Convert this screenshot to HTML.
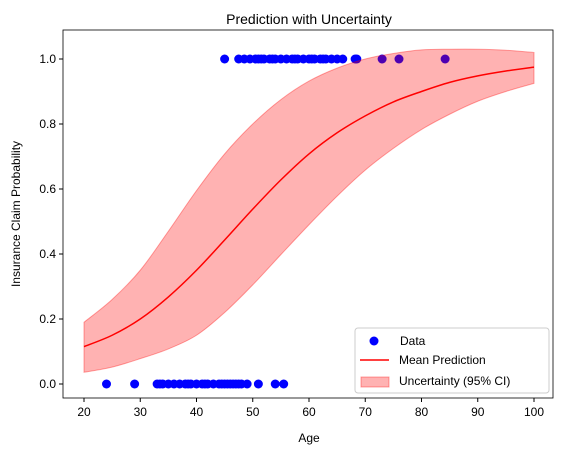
<!DOCTYPE html>
<html><head><meta charset="utf-8"><style>
body{margin:0;background:#fff;}
svg{font-family:"Liberation Sans","DejaVu Sans",sans-serif;}
</style></head><body>
<svg id="chart" width="567" height="455" viewBox="0 0 567 455">
<text x="309" y="24" font-size="14" text-anchor="middle">Prediction with Uncertainty</text>
<g id="pts"></g><g id="band"></g><g id="line"></g>
<rect x="63" y="30" width="490" height="368" fill="none" stroke="#000" stroke-width="0.8"/>
<g id="xt"></g><g id="yt"></g>
<text x="309" y="442" font-size="12" text-anchor="middle">Age</text>
<text transform="translate(20,214) rotate(-90)" font-size="12" text-anchor="middle">Insurance Claim Probability</text>
<g>
<rect x="355" y="328" width="194" height="65" rx="3" fill="#fff" fill-opacity="0.8" stroke="#ccc"/>
<circle cx="374" cy="341" r="4.5" fill="#0000ff"/>
<text x="400" y="345" font-size="12">Data</text>
<line x1="360" y1="360" x2="389" y2="360" stroke="red" stroke-width="1.5"/>
<text x="399" y="364" font-size="12">Mean Prediction</text>
<rect x="361" y="377" width="28" height="10" fill="rgba(255,0,0,0.3)" stroke="rgba(255,0,0,0.35)"/>
<text x="399" y="385" font-size="12">Uncertainty (95% CI)</text>
</g>
</svg>
<script>
const ages=[20,25,30,35,40,45,50,55,60,65,70,75,80,85,90,95,100];
const meanVals=[.115,.15,.20,.268,.35,.443,.538,.628,.708,.773,.825,.868,.90,.928,.948,.963,.975];
const lowerVals=[.036,.052,.078,.108,.15,.22,.305,.398,.49,.578,.658,.725,.783,.83,.87,.90,.925];
const upperVals=[.19,.26,.35,.47,.595,.708,.80,.875,.932,.972,1.0,1.017,1.028,1.03,1.03,1.027,1.02];
const claimAges=[45,47.5,48.5,49.5,50.5,51,51.5,52,53,53.5,54,55,56,57,57.5,58,59,60,60.5,61,62,62.5,63,64,65,66,68.2,68.5,73,76,84.2];
const noClaimAges=[24,29,33,33.5,34,35,36,37,38,38.5,39,40,41,41.5,42,43,44,44.5,45,45.5,46,46.5,47,47.5,48,49,51,54,55.5];
const xTicks=[20,30,40,50,60,70,80,90,100];
const yTicks=[0,0.2,0.4,0.6,0.8,1.0];
const NS='http://www.w3.org/2000/svg';
const X=a=>84+(a-20)*5.625, Y=v=>384-v*325;
function mk(t,p,at){const e=document.createElementNS(NS,t);for(const k in at)e.setAttribute(k,at[k]);p.appendChild(e);return e;}
function smooth(P,start){let s=start?'M'+P[0][0]+','+P[0][1]:'L'+P[0][0]+','+P[0][1];
for(let i=0;i<P.length-1;i++){const p0=P[Math.max(i-1,0)],p1=P[i],p2=P[i+1],p3=P[Math.min(i+2,P.length-1)];
s+='C'+(p1[0]+(p2[0]-p0[0])/6)+','+(p1[1]+(p2[1]-p0[1])/6)+' '+(p2[0]-(p3[0]-p1[0])/6)+','+(p2[1]-(p3[1]-p1[1])/6)+' '+p2[0]+','+p2[1];}
return s;}
const up=ages.map((a,i)=>[X(a),Y(upperVals[i])]);
const lo=ages.map((a,i)=>[X(a),Y(lowerVals[i])]).reverse();
const mn=ages.map((a,i)=>[X(a),Y(meanVals[i])]);
const pts=document.getElementById('pts');
claimAges.forEach(a=>{const c=mk('circle',pts,{cx:X(a),cy:Y(1),r:4.5,fill:'#0000ff'});

});
noClaimAges.forEach(a=>{const c=mk('circle',pts,{cx:X(a),cy:Y(0),r:4.5,fill:'#0000ff'});

});
const b=mk('path',document.getElementById('band'),{d:smooth(up,true)+smooth(lo,false)+'Z',fill:'rgba(255,0,0,0.3)',stroke:'rgba(255,0,0,0.35)'});


const l=mk('path',document.getElementById('line'),{d:smooth(mn,true),fill:'none',stroke:'red','stroke-width':1.5});


const xt=document.getElementById('xt');
xTicks.forEach(t=>{mk('line',xt,{x1:X(t),x2:X(t),y1:398,y2:402,stroke:'#000'});
const s=mk('text',xt,{x:X(t),y:416,'font-size':12,'text-anchor':'middle'});s.textContent=t;

});
const yt=document.getElementById('yt');
yTicks.forEach(t=>{mk('line',yt,{x1:59,x2:63,y1:Y(t),y2:Y(t),stroke:'#000'});
const s=mk('text',yt,{x:56,y:Y(t)+4,'font-size':12,'text-anchor':'end'});s.textContent=t.toFixed(1);

});
</script>
</body></html>
